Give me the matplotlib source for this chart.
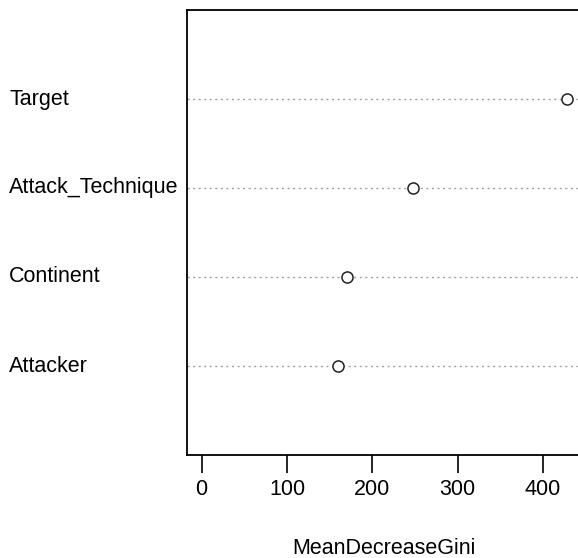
import matplotlib
matplotlib.use("Agg")
import matplotlib.pyplot as plt
import matplotlib.transforms as mtransforms

plt.rcParams["font.family"] = ["Liberation Sans", "DejaVu Sans"]

# variable importance, bottom to top as drawn
variables = ["Attacker", "Continent", "Attack_Technique", "Target"]
gini = [159.5, 170.5, 247.5, 428.0]
xticks = [0, 100, 200, 300, 400]

fig = plt.figure(figsize=(5.78, 5.58), dpi=100)
ax = fig.add_axes([187 / 578, 1 - 455 / 558, (581.5 - 187) / 578, 445 / 558])

ypos = list(range(1, len(variables) + 1))
for y in ypos:
    ax.axhline(y, color="#a0a0a0", lw=1.0, ls=(0, (1.5, 2.5)), zorder=1)
ax.plot(gini, ypos, ls="none", marker="o", ms=8, mfc="white", mec="#222222", mew=1.1, zorder=3)

xmax = max(gini)
ext = 0.04 * xmax
ax.set_xlim(-ext, xmax + ext)
ax.set_ylim(0, len(variables) + 1)

ax.set_xticks(xticks)
ax.set_xticklabels([str(t) for t in xticks], fontsize=15.5)
ax.tick_params(axis="x", length=13, width=1.2, pad=4, color="black")
ax.set_yticks([])
for s in ax.spines.values():
    s.set_linewidth(1.3)
ax.spines["right"].set_visible(False)

trans = mtransforms.blended_transform_factory(fig.transFigure, ax.transData)
for name, y in zip(variables, ypos):
    ax.text(9 / 578, y, name, transform=trans, ha="left", va="center", fontsize=15.5, clip_on=False)

ax.set_xlabel("MeanDecreaseGini", fontsize=15.5, labelpad=28)

fig.savefig("out.png", dpi=100)
